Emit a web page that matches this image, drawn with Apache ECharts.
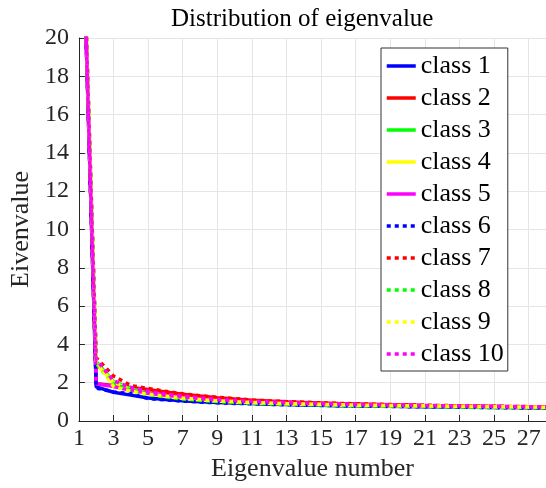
<!DOCTYPE html>
<html>
<head>
<meta charset="utf-8">
<script src="https://cdn.jsdelivr.net/npm/echarts@6/dist/echarts.min.js"></script>
<style>
  html, body { margin: 0; padding: 0; background: #fff; }
  #chart { width: 546px; height: 488px; }
</style>
</head>
<body>
<div id="chart"></div>
<script>
// eigenvalue index 1..28
const eigNumbers = [1, 2, 3, 4, 5, 6, 7, 8, 9, 10, 11, 12, 13, 14, 15, 16, 17, 18, 19, 20, 21, 22, 23, 24, 25, 26, 27, 28];

const class1 = [33, 1.78, 1.5, 1.35, 1.2, 1.12, 1.06, 1.01, 0.97, 0.94, 0.91, 0.88, 0.86, 0.84, 0.82, 0.8, 0.79, 0.78, 0.77, 0.76, 0.75, 0.74, 0.73, 0.72, 0.71, 0.7, 0.69, 0.68];
const class2 = [33, 1.95, 1.85, 1.75, 1.65, 1.52, 1.4, 1.3, 1.22, 1.15, 1.09, 1.04, 1.0, 0.97, 0.94, 0.91, 0.89, 0.87, 0.85, 0.83, 0.81, 0.8, 0.78, 0.77, 0.76, 0.75, 0.74, 0.73];
const class3 = [33, 3.1, 2.05, 1.7, 1.45, 1.3, 1.2, 1.12, 1.05, 1.0, 0.96, 0.93, 0.9, 0.88, 0.86, 0.84, 0.82, 0.8, 0.79, 0.78, 0.77, 0.76, 0.75, 0.74, 0.73, 0.72, 0.71, 0.7];
const class4 = [33, 3.0, 2.0, 1.62, 1.42, 1.28, 1.18, 1.1, 1.04, 0.99, 0.95, 0.92, 0.9, 0.88, 0.86, 0.84, 0.82, 0.81, 0.8, 0.79, 0.78, 0.77, 0.76, 0.75, 0.74, 0.73, 0.72, 0.71];
const class5 = [33, 1.95, 1.8, 1.6, 1.45, 1.35, 1.25, 1.17, 1.1, 1.05, 1.01, 0.98, 0.95, 0.92, 0.9, 0.88, 0.86, 0.84, 0.83, 0.82, 0.8, 0.79, 0.78, 0.77, 0.76, 0.75, 0.74, 0.73];
const class6 = [33, 1.72, 1.52, 1.42, 1.17, 1.1, 1.04, 0.99, 0.95, 0.92, 0.9, 0.87, 0.85, 0.83, 0.81, 0.8, 0.78, 0.77, 0.76, 0.75, 0.74, 0.73, 0.72, 0.71, 0.7, 0.69, 0.68, 0.67];
const class7 = [33, 3.3, 2.35, 1.85, 1.7, 1.55, 1.42, 1.32, 1.24, 1.17, 1.1, 1.05, 1.01, 0.98, 0.95, 0.92, 0.9, 0.88, 0.86, 0.84, 0.82, 0.81, 0.79, 0.78, 0.77, 0.76, 0.75, 0.74];
const class8 = [33, 3.0, 1.95, 1.6, 1.38, 1.25, 1.15, 1.08, 1.02, 0.97, 0.93, 0.9, 0.88, 0.86, 0.84, 0.82, 0.8, 0.79, 0.78, 0.77, 0.76, 0.75, 0.74, 0.73, 0.72, 0.71, 0.7, 0.69];
const class9 = [33, 3.15, 1.8, 1.55, 1.4, 1.3, 1.2, 1.12, 1.06, 1.01, 0.97, 0.94, 0.91, 0.89, 0.87, 0.85, 0.83, 0.82, 0.81, 0.8, 0.79, 0.78, 0.77, 0.76, 0.75, 0.74, 0.73, 0.72];
const class10 = [33, 3.2, 2.1, 1.75, 1.55, 1.4, 1.3, 1.2, 1.13, 1.07, 1.03, 0.99, 0.96, 0.93, 0.91, 0.89, 0.87, 0.85, 0.84, 0.82, 0.81, 0.8, 0.79, 0.78, 0.77, 0.76, 0.75, 0.74];

const classNames = ['class 1', 'class 2', 'class 3', 'class 4', 'class 5', 'class 6', 'class 7', 'class 8', 'class 9', 'class 10'];
const classData = [class1, class2, class3, class4, class5, class6, class7, class8, class9, class10];
const colors = ['#0000ff', '#ff0000', '#00ff00', '#ffff00', '#ff00ff'];

const FONT = '"Liberation Serif", "DejaVu Serif", serif';
const AXIS_COLOR = '#262626';

const chart = echarts.init(document.getElementById('chart'));

const series = classData.map((vals, i) => ({
  name: classNames[i],
  type: 'line',
  data: vals,
  symbol: 'none',
  animation: false,
  lineStyle: {
    color: colors[i % 5],
    width: 3.5,
    type: i < 5 ? 'solid' : [4, 4]
  },
  itemStyle: { color: colors[i % 5] }
}));

const option = {
  animation: false,
  color: colors,
  title: {
    text: 'Distribution of eigenvalue',
    left: 166,
    top: 2,
    textStyle: { fontFamily: FONT, fontSize: 25, fontWeight: 'normal', color: '#000' }
  },
  grid: { left: 76, right: 0, top: 38, bottom: 67 },
  legend: {
    orient: 'vertical',
    left: 381,
    top: 48,
    padding: [3, 4, 2, 4],
    itemWidth: 29,
    itemHeight: 14,
    itemGap: 2,
    backgroundColor: '#fff',
    borderColor: '#333',
    borderWidth: 1,
    borderRadius: 0,
    data: classNames,
    // hide the marker the line legend adds, keep only the line sample
    itemStyle: { opacity: 0 },
    lineStyle: { width: 3.5 },
    textStyle: { fontFamily: FONT, fontSize: 26, lineHeight: 30, color: '#000' }
  },
  xAxis: {
    type: 'category',
    data: eigNumbers,
    boundaryGap: false,
    name: 'Eigenvalue number',
    nameLocation: 'middle',
    nameGap: 33,
    nameTextStyle: { fontFamily: FONT, fontSize: 26, color: AXIS_COLOR },
    axisLine: { lineStyle: { color: AXIS_COLOR, width: 1 } },
    axisTick: { inside: true, length: 6, interval: 1, lineStyle: { color: AXIS_COLOR } },
    axisLabel: { interval: 1, margin: 6, fontFamily: FONT, fontSize: 24, color: AXIS_COLOR },
    splitLine: { show: true, interval: 1, lineStyle: { color: '#e5e5e5', width: 1 } }
  },
  yAxis: {
    type: 'value',
    min: 0,
    max: 20,
    interval: 2,
    name: 'Eivenvalue',
    nameLocation: 'middle',
    nameGap: 38,
    nameTextStyle: { fontFamily: FONT, fontSize: 26, color: AXIS_COLOR },
    axisLine: { show: true, lineStyle: { color: AXIS_COLOR, width: 1 } },
    axisTick: { show: true, inside: true, length: 6, lineStyle: { color: AXIS_COLOR } },
    axisLabel: { margin: 10, fontFamily: FONT, fontSize: 24, color: AXIS_COLOR },
    splitLine: { show: true, lineStyle: { color: '#e5e5e5', width: 1 } }
  },
  series: series
};

chart.setOption(option);
</script>
</body>
</html>
